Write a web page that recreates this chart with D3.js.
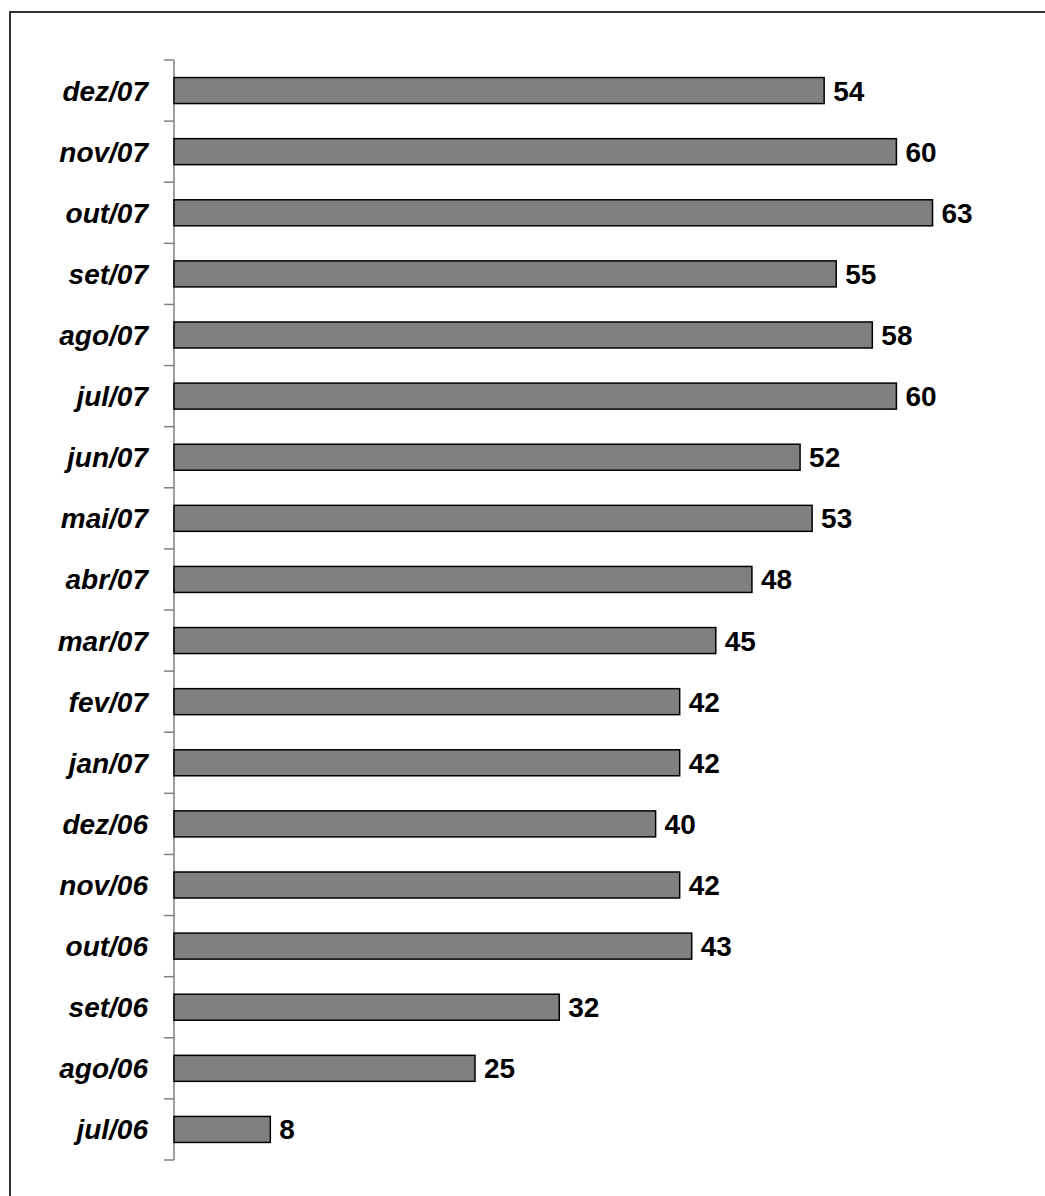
<!DOCTYPE html>
<html>
<head>
<meta charset="utf-8">
<script src="https://cdn.jsdelivr.net/npm/d3@7"></script>
<style>
  html, body { margin: 0; padding: 0; background: #fff; }
  svg { display: block; }
</style>
</head>
<body>
<svg id="chart" width="1045" height="1196"></svg>
<script>
const categories = ["dez/07","nov/07","out/07","set/07","ago/07","jul/07","jun/07","mai/07","abr/07","mar/07","fev/07","jan/07","dez/06","nov/06","out/06","set/06","ago/06","jul/06"];
const values = [54,60,63,55,58,60,52,53,48,45,42,42,40,42,43,32,25,8];

const svg = d3.select("#chart");
const W = 1045, H = 1196;

// outer frame (right/bottom edges extend past the viewport)
svg.append("rect")
  .attr("x", 10).attr("y", 12)
  .attr("width", 1200).attr("height", 1400)
  .attr("fill", "none").attr("stroke", "#333").attr("stroke-width", 2);

const x0 = 174;
const x = d3.scaleLinear().domain([0, 10]).range([x0, x0 + 120.4]);
const pad = 1 - 26 / (1100 / 18);
const y = d3.scaleBand().domain(categories).range([60, 1160])
  .paddingInner(pad).paddingOuter(pad / 2);

// axis line and ticks between categories
const g = svg.append("g");
g.append("line")
  .attr("x1", x0).attr("x2", x0)
  .attr("y1", 60).attr("y2", 1160)
  .attr("stroke", "#808080").attr("stroke-width", 1.5);
const step = y.step();
const tickYs = d3.range(categories.length + 1).map(i => 60 + i * step);
g.selectAll("line.tick").data(tickYs).enter().append("line")
  .attr("class", "tick")
  .attr("x1", x0 - 10).attr("x2", x0)
  .attr("y1", d => d).attr("y2", d => d)
  .attr("stroke", "#808080").attr("stroke-width", 1.5);

// bars
svg.selectAll("rect.bar").data(values).enter().append("rect")
  .attr("class", "bar")
  .attr("x", x(0))
  .attr("y", (d, i) => y(categories[i]))
  .attr("width", d => x(d) - x(0))
  .attr("height", y.bandwidth())
  .attr("fill", "#808080")
  .attr("stroke", "#000")
  .attr("stroke-width", 1.5);

// category labels
svg.selectAll("text.cat").data(categories).enter().append("text")
  .attr("class", "cat")
  .attr("x", 148)
  .attr("y", d => y(d) + y.bandwidth() / 2 + 10)
  .attr("text-anchor", "end")
  .attr("font-family", "Liberation Sans, Arial, sans-serif")
  .attr("font-weight", "bold")
  .attr("font-style", "italic")
  .attr("font-size", 28)
  .attr("fill", "#000")
  .text(d => d);

// value labels
svg.selectAll("text.val").data(values).enter().append("text")
  .attr("class", "val")
  .attr("x", d => x(d) + 9)
  .attr("y", (d, i) => y(categories[i]) + y.bandwidth() / 2 + 10)
  .attr("font-family", "Liberation Sans, Arial, sans-serif")
  .attr("font-weight", "bold")
  .attr("font-size", 28)
  .attr("fill", "#000")
  .text(d => d);
</script>
</body>
</html>
